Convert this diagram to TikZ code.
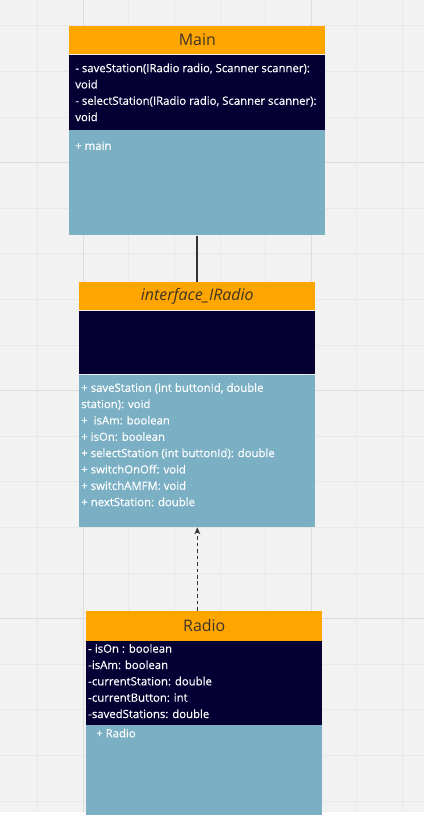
\documentclass[tikz,border=0pt]{standalone}
\usepackage{fontspec}
\setmainfont{Open Sans}
\newfontfamily\memberfont[FakeBold=0.4]{Open Sans}
\usetikzlibrary{positioning,arrows.meta}

\definecolor{canvas}{HTML}{F2F2F2}
\definecolor{gridminor}{HTML}{E8E8E8}
\definecolor{gridmajor}{HTML}{DCDCDC}
\definecolor{umlorange}{HTML}{FFA500}
\definecolor{umlnavy}{HTML}{050033}
\definecolor{umlblue}{HTML}{7AAFC4}
\definecolor{titleink}{HTML}{3E3526}
\definecolor{wireink}{HTML}{333333}

\tikzset{
  classtitle/.style={fill=umlorange, inner sep=0pt, anchor=north west,
    text=titleink, font=\fontsize{16}{18}\selectfont},
  attrbox/.style={fill=umlnavy, inner sep=0pt},
  opbox/.style={fill=umlblue, inner sep=0pt},
  member/.style={anchor=base west, inner sep=0pt, text=white,
    font=\memberfont\fontsize{11.4}{13}\selectfont},
  assoc/.style={draw=wireink, line width=1.8pt},
  realize/.style={draw=wireink, line width=1.1pt, dash pattern=on 3.5pt off 3pt,
    -{Stealth[length=7pt,width=6pt]}}
}

\begin{document}
\begin{tikzpicture}[x=1pt, y=-1pt]
% canvas with its grid
\fill[canvas] (0,0) rectangle (425,815);
\foreach \i in {0,...,8}
  \draw[gridminor, line width=0.8pt] ({37.2+45.8*\i},0) -- ({37.2+45.8*\i},815);
\foreach \j in {0,...,17}
  \draw[gridminor, line width=0.8pt] (0,{25.4+45.8*\j}) -- (425,{25.4+45.8*\j});
\foreach \x in {83,312}
  \draw[gridmajor, line width=0.9pt] (\x,0) -- (\x,815);
\foreach \y in {162.8,391.8,620.8}
  \draw[gridmajor, line width=0.9pt] (0,\y) -- (425,\y);

% class Main
\node[classtitle, minimum width=257, minimum height=29] (mainTitle) at (69,25) {Main};
\node[attrbox, minimum width=257, minimum height=75, below=0pt of mainTitle] (mainAttr) {};
\node[opbox, minimum width=257, minimum height=106, below=0pt of mainAttr] (mainOps) {};
\foreach \txt [count=\k] in {{- saveStation(IRadio radio, Scanner scanner):}, void,
    {- selectStation(IRadio radio, Scanner scanner):}, void}
  \node[member] (mainA\k) at (75, {72+16.4*(\k-1)}) {\txt};
\node[member] (mainO1) at (75,150) {+ main};

% interface IRadio
\node[classtitle, minimum width=237, minimum height=28, font=\fontsize{16}{18}\selectfont\itshape]
  (ifTitle) at (79,283) {interface\_IRadio};
\node[attrbox, minimum width=237, minimum height=64, below=0pt of ifTitle] (ifAttr) {};
\node[opbox, minimum width=237, minimum height=153, below=0pt of ifAttr] (ifOps) {};
\foreach \txt [count=\k] in {{+ saveStation (int buttonId, double}, {station): void},
    {+ \ isAm: boolean}, {+ isOn: boolean}, {+ selectStation (int buttonId): double},
    {+ switchOnOff: void}, {+ switchAMFM: void}, {+ nextStation: double}}
  \node[member] (ifO\k) at (81, {393+16.4*(\k-1)}) {\txt};

% class Radio
\node[classtitle, minimum width=237, minimum height=30] (radioTitle) at (86,613) {Radio};
\node[attrbox, minimum width=237, minimum height=84, below=0pt of radioTitle] (radioAttr) {};
\node[opbox, minimum width=237, minimum height=90, below=0pt of radioAttr] (radioOps) {};
\foreach \txt [count=\k] in {{- isOn : boolean}, {-isAm: boolean}, {-currentStation: double},
    {-currentButton: int}, {-savedStations: double}}
  \node[member] (radioA\k) at (88, {655+16.4*(\k-1)}) {\txt};
\node[member] (radioO1) at (96,740) {+ Radio};

% connectors
\draw[assoc] (mainOps.south) -- (ifTitle.north);
\draw[realize] (radioTitle.north -| ifOps.south) -- (ifOps.south);

\useasboundingbox (0,0) rectangle (425,815);
\end{tikzpicture}
\end{document}
